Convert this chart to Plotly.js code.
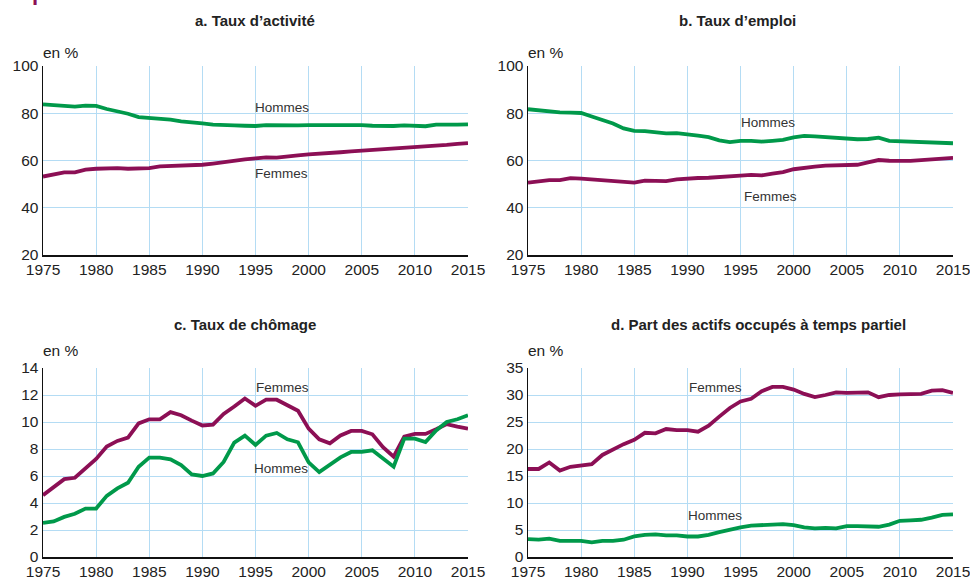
<!DOCTYPE html>
<html>
<head>
<meta charset="utf-8">
<script src="https://cdn.plot.ly/plotly-3.0.1.min.js"></script>
<style>html,body{margin:0;padding:0;background:#fff;}#chart{width:970px;height:584px;}</style>
</head>
<body>
<div id="chart"></div>
<script>
const years = [];
for (let y = 1975; y <= 2015; y++) years.push(y);

const activiteHommes = [83.8,83.6,83.3,82.8,83.2,83.1,81.8,81.0,79.8,78.4,78.1,77.8,77.3,76.6,76.3,75.7,75.2,75.2,74.9,74.7,74.6,75.0,74.9,74.8,74.9,75.0,75.0,75.1,75.4,75.3,75.0,74.7,74.5,74.6,74.9,74.8,74.5,75.2,75.4,75.2,75.3];
const activiteFemmes = [53.2,54.0,55.0,55.0,56.1,56.5,56.7,56.8,56.5,56.7,56.8,57.5,57.6,57.7,58.0,58.2,58.7,59.4,60.1,60.5,60.9,61.3,61.2,61.9,62.2,62.6,62.8,63.0,63.5,63.9,64.2,64.3,64.7,65.0,65.4,65.6,65.6,66.0,66.6,67.0,67.4];

const emploiHommes = [81.7,81.2,80.8,80.4,80.3,80.1,78.6,77.1,75.7,73.6,72.5,72.4,71.9,71.5,71.6,71.2,70.5,69.9,68.5,67.8,68.3,68.3,68.0,68.3,68.7,69.8,70.4,70.2,69.9,69.5,69.2,69.0,69.1,69.7,68.3,68.2,68.0,68.0,67.7,67.4,67.3];
const emploiFemmes = [50.6,51.2,51.7,51.7,52.5,52.3,51.9,51.7,51.3,50.8,50.6,51.5,51.2,51.3,52.0,52.5,52.6,52.7,52.9,53.0,53.6,53.9,53.7,54.4,55.1,56.3,57.0,57.4,57.8,58.0,58.0,58.2,59.2,60.2,59.9,59.8,59.8,60.2,60.5,60.9,61.1];

const chomageFemmes = [4.58,5.15,5.77,5.87,6.57,7.26,8.18,8.6,8.85,9.9,10.2,10.2,10.73,10.5,10.1,9.74,9.81,10.6,11.15,11.74,11.2,11.65,11.65,11.2,10.83,9.51,8.72,8.42,9.0,9.34,9.34,9.09,8.13,7.43,8.92,9.12,9.12,9.46,9.84,9.66,9.51];
const chomageHommes = [2.53,2.63,2.97,3.2,3.59,3.59,4.53,5.08,5.5,6.69,7.36,7.36,7.23,6.81,6.12,6.0,6.19,7.04,8.47,8.99,8.3,8.99,9.19,8.72,8.5,7.01,6.29,6.81,7.38,7.78,7.78,7.9,7.31,6.69,8.77,8.77,8.52,9.37,10.0,10.2,10.5];

const partielFemmes = [16.3,16.3,17.5,16.0,16.7,16.9,17.2,18.9,19.9,20.9,21.7,23.0,22.9,23.7,23.5,23.5,23.2,24.3,26.0,27.6,28.8,29.3,30.7,31.5,31.5,31.0,30.2,29.6,30.0,30.5,30.4,30.4,30.5,29.6,30.0,30.1,30.1,30.2,30.8,30.9,30.4];
const partielHommes = [3.3,3.2,3.4,3.0,3.0,3.0,2.7,3.0,3.0,3.2,3.8,4.1,4.2,4.0,4.0,3.8,3.8,4.1,4.6,5.1,5.5,5.8,5.9,6.1,6.1,5.9,5.5,5.3,5.4,5.3,5.7,5.7,5.6,5.6,6.0,6.7,6.8,6.9,7.3,7.8,7.9];

const panelTitles = ["a. Taux d\u2019activit\u00e9", "b. Taux d\u2019emploi", "c. Taux de ch\u00f4mage", "d. Part des actifs occup\u00e9s \u00e0 temps partiel"];
const xTicks = [1975,1980,1985,1990,1995,2000,2005,2010,2015];

const GREEN = "#00994a";
const MAGENTA = "#8c0f55";
const FONT = "'Liberation Sans Narrow', 'Arial Narrow', 'Liberation Sans', Arial, sans-serif";
const W = 970, H = 584;
const px = x => x / W;
const py = y => 1 - y / H;

function line(x, y, color, xa, ya) {
  return {x: x, y: y, type: "scatter", mode: "lines", xaxis: xa, yaxis: ya,
    line: {color: color, width: 3.8, shape: "linear"}, hoverinfo: "skip", showlegend: false};
}

const data = [
  line(years, activiteHommes, GREEN, "x", "y"),
  line(years, activiteFemmes, MAGENTA, "x", "y"),
  line(years, emploiHommes, GREEN, "x2", "y2"),
  line(years, emploiFemmes, MAGENTA, "x2", "y2"),
  line(years, chomageFemmes, MAGENTA, "x3", "y3"),
  line(years, chomageHommes, GREEN, "x3", "y3"),
  line(years, partielFemmes, MAGENTA, "x4", "y4"),
  line(years, partielHommes, GREEN, "x4", "y4")
];

const tickFont = {family: FONT, size: 15.5, color: "#222"};

function xaxis(dom, anchor) {
  return {domain: dom, anchor: anchor, range: [1975, 2015], tickvals: xTicks, ticktext: xTicks.map(String),
    showline: true, linecolor: "#111", linewidth: 1.5, mirror: false, showgrid: true, gridcolor: "#b4dcf4", gridwidth: 1,
    zeroline: false, ticks: "", ticklen: 0, ticklabeloverflow: "allow", tickfont: tickFont, fixedrange: true};
}
function yaxis(dom, anchor, range, dtick) {
  return {domain: dom, anchor: anchor, range: range, dtick: dtick, tick0: 0,
    showline: true, linecolor: "#111", linewidth: 1.5, showgrid: true, gridcolor: "#b4dcf4", gridwidth: 1,
    zeroline: false, ticks: "", ticklen: 0, ticklabeloverflow: "allow", tickfont: tickFont, fixedrange: true};
}

const xDomL = [px(43), px(468)], xDomR = [px(528), px(953)];
const yDomT = [py(255), py(66)], yDomB = [py(557), py(368)];

function ann(text, x, y, opts) {
  return Object.assign({text: text, x: px(x), y: py(y), xref: "paper", yref: "paper", showarrow: false,
    xanchor: "center", yanchor: "middle", font: {family: FONT, size: 13.5, color: "#333"}}, opts || {});
}
const titleFont = {family: FONT, size: 15, color: "#222"};
const unitFont = {family: FONT, size: 15.5, color: "#222"};

const annotations = [
  ann("<b>par sexe en France</b>", 30, 7.5, {xanchor: "left", yanchor: "bottom", font: {family: FONT, size: 22, color: MAGENTA}}),
  ann("<b>" + panelTitles[0] + "</b>", 255, 21, {font: titleFont}),
  ann("<b>" + panelTitles[1] + "</b>", 737, 21, {font: titleFont}),
  ann("<b>" + panelTitles[2] + "</b>", 245, 325, {font: titleFont}),
  ann("<b>" + panelTitles[3] + "</b>", 758, 325, {font: titleFont}),
  ann("en %", 41, 52, {xanchor: "left", font: unitFont}),
  ann("en %", 526, 52, {xanchor: "left", font: unitFont}),
  ann("en %", 41, 350, {xanchor: "left", font: unitFont}),
  ann("en %", 526, 350, {xanchor: "left", font: unitFont}),
  ann("Hommes", 282, 107),
  ann("Femmes", 281, 174),
  ann("Hommes", 768, 122),
  ann("Femmes", 770, 197),
  ann("Femmes", 282, 387),
  ann("Hommes", 281, 468),
  ann("Femmes", 715, 387),
  ann("Hommes", 715, 515)
];

const layout = {
  width: W, height: H,
  margin: {l: 0, r: 0, t: 0, b: 0, pad: 0},
  paper_bgcolor: "#fff", plot_bgcolor: "#fff",
  showlegend: false,
  font: {family: FONT, color: "#222"},
  xaxis: xaxis(xDomL, "y"), yaxis: yaxis(yDomT, "x", [20, 100], 20),
  xaxis2: xaxis(xDomR, "y2"), yaxis2: yaxis(yDomT, "x2", [20, 100], 20),
  xaxis3: xaxis(xDomL, "y3"), yaxis3: yaxis(yDomB, "x3", [0, 14], 2),
  xaxis4: xaxis(xDomR, "y4"), yaxis4: yaxis(yDomB, "x4", [0, 35], 5),
  annotations: annotations
};

Plotly.newPlot("chart", data, layout, {displayModeBar: false, staticPlot: true});
</script>
</body>
</html>
